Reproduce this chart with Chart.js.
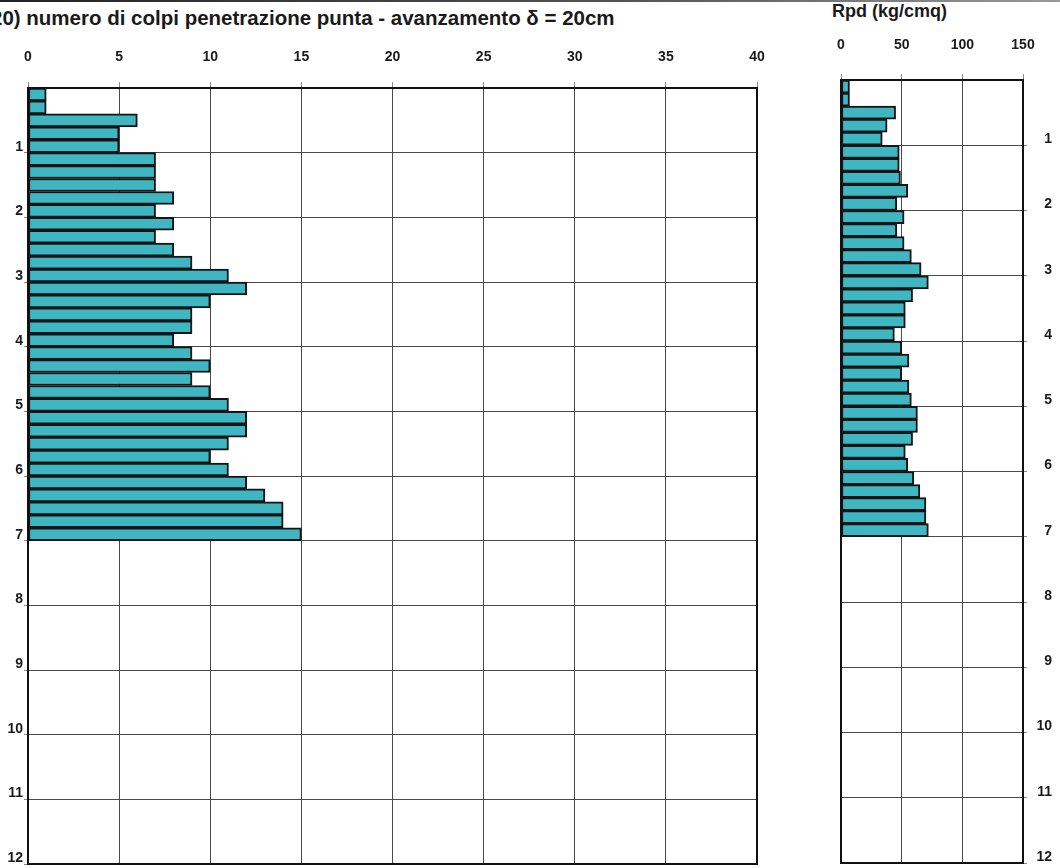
<!DOCTYPE html>
<html>
<head>
<meta charset="utf-8">
<script src="https://cdn.jsdelivr.net/npm/chart.js@4.4.1/dist/chart.umd.min.js"></script>
<style>
  html, body { margin: 0; padding: 0; background: #fff; }
  body { width: 1060px; height: 868px; position: relative; overflow: hidden; font-family: "Liberation Sans", Arial, sans-serif; }
  .scanline { position: absolute; left: 0; top: 0; width: 1060px; height: 2px; background: linear-gradient(to right, #222, #555 60%, #999); }
  .title { position: absolute; font-weight: bold; color: #1a1a1a; white-space: nowrap; }
  #t1 { left: -9px; top: 6px; font-size: 20.5px; }
  #t2 { left: 832px; top: 1px; font-size: 18px; }
  #wrap1 { position: absolute; left: 0; top: 0; width: 800px; height: 868px; }
  #wrap2 { position: absolute; left: 820px; top: 0; width: 232px; height: 868px; }
</style>
</head>
<body>
<div class="scanline"></div>
<div class="title" id="t1">20) numero di colpi penetrazione punta - avanzamento &delta; = 20cm</div>
<div class="title" id="t2">Rpd (kg/cmq)</div>
<div id="wrap1"><canvas id="chart1"></canvas></div>
<div id="wrap2"><canvas id="chart2"></canvas></div>
<script>
// depth at the bottom of each 20 cm step (m)
var depths = [0.2, 0.4, 0.6, 0.8, 1.0, 1.2, 1.4, 1.6, 1.8, 2.0,
              2.2, 2.4, 2.6, 2.8, 3.0, 3.2, 3.4, 3.6, 3.8, 4.0,
              4.2, 4.4, 4.6, 4.8, 5.0, 5.2, 5.4, 5.6, 5.8, 6.0,
              6.2, 6.4, 6.6, 6.8, 7.0];
// N colpi per 20 cm
var colpi = [1, 1, 6, 5, 5, 7, 7, 7, 8, 7,
             8, 7, 8, 9, 11, 12, 10, 9, 9, 8,
             9, 10, 9, 10, 11, 12, 12, 11, 10, 11,
             12, 13, 14, 14, 15];
// Rpd (kg/cmq)
var rpd = [7, 7, 45, 38, 34, 48, 48, 49, 55, 46,
           52, 46, 52, 58, 66, 72, 59, 53, 53, 44,
           50, 56, 50, 56, 58, 63, 63, 59, 53, 55,
           60, 65, 70, 70, 72];

var colpiTicks = [0, 5, 10, 15, 20, 25, 30, 35, 40];
var rpdTicks = [0, 50, 100, 150];
var depthTicks = [1, 2, 3, 4, 5, 6, 7, 8, 9, 10, 11, 12];

var step = 0.2;
function toPoints(vals) {
    return vals.map(function (v, i) { return { x: v, y: depths[i] - step / 2 }; });
}

var tickFont = { family: "Liberation Sans", weight: 'bold', size: 14 };

var frame = {
    id: 'frame',
    afterDraw: function (chart) {
        var a = chart.chartArea, c = chart.ctx;
        c.save();
        c.strokeStyle = '#111';
        c.lineWidth = 2;
        c.strokeRect(a.left, a.top, a.right - a.left, a.bottom - a.top);
        c.restore();
    }
};

function makeChart(id, vals, xMax, xTicks, yPos, xHeight, yWidth, padding, xPad) {
    var ctx = document.getElementById(id).getContext('2d');
    return new Chart(ctx, {
        type: 'bar',
        data: {
            datasets: [{
                data: toPoints(vals),
                backgroundColor: '#3fb7c3',
                borderColor: '#141414',
                borderWidth: 2,
                borderSkipped: false,
                categoryPercentage: 1,
                barPercentage: 1
            }]
        },
        options: {
            indexAxis: 'y',
            responsive: true,
            maintainAspectRatio: false,
            animation: false,
            layout: { padding: padding },
            plugins: { legend: { display: false }, tooltip: { enabled: false } },
            scales: {
                x: {
                    type: 'linear',
                    position: 'top',
                    min: 0,
                    max: xMax,
                    afterBuildTicks: function (s) { s.ticks = xTicks.map(function (v) { return { value: v }; }); },
                    afterFit: function (s) { s.height = xHeight; s.paddingLeft = 0; s.paddingRight = 0; },
                    border: { display: false },
                    grid: { color: '#4a4a4a', lineWidth: 1, tickLength: 6, tickColor: '#888' },
                    ticks: { color: '#1a1a1a', font: tickFont, padding: xPad, maxRotation: 0 }
                },
                y: {
                    type: 'linear',
                    position: yPos,
                    reverse: true,
                    offset: false,
                    min: 0,
                    max: 12,
                    afterBuildTicks: function (s) { s.ticks = depthTicks.map(function (v) { return { value: v }; }); },
                    afterFit: function (s) { s.width = yWidth; s.paddingTop = 0; s.paddingBottom = 0; },
                    border: { display: false },
                    grid: { color: '#4a4a4a', lineWidth: 1, tickLength: 4, tickColor: '#888', offset: false },
                    ticks: {
                        color: '#1a1a1a', font: tickFont, padding: 1, labelOffset: -6,
                        crossAlign: yPos === 'right' ? 'far' : 'near'
                    }
                }
            }
        },
        plugins: [frame]
    });
}

var chart1 = makeChart('chart1', colpi, 40, colpiTicks, 'left', 88, 28, { right: 43, bottom: 4 }, 16);
var chart2 = makeChart('chart2', rpd, 150, rpdTicks, 'right', 80, 29, { left: 21, bottom: 5 }, 20);
</script>
</body>
</html>
